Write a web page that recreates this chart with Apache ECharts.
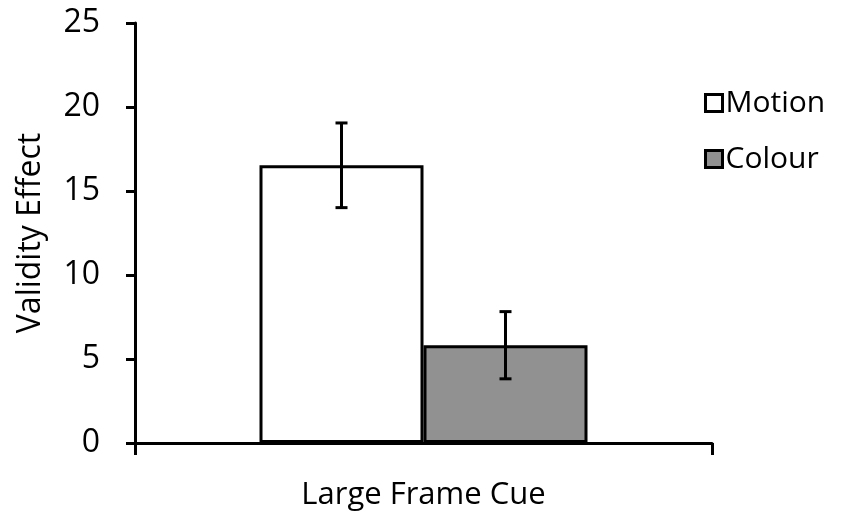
<!DOCTYPE html>
<html><head><meta charset="utf-8">
<script src="https://cdn.jsdelivr.net/npm/echarts@6/dist/echarts.min.js"></script>
<style>html,body{margin:0;padding:0;background:#fff}#c{width:843px;height:522px}</style>
</head><body><div id="c"></div>
<script>
var categories = ['Large Frame Cue'];
var seriesNames = ['Motion', 'Colour'];
var motionValues = [16.53];
var colourValues = [5.82];
var motionErrors = [2.52];
var colourErrors = [2.0];
var yTicks = {min: 0, max: 25, interval: 5};

var FONT = '"Open Sans", Lato, sans-serif';
var BAR_W = 164;
var chart = echarts.init(document.getElementById('c'));

function errSeries(name, values, errors, offset) {
  var data = values.map(function (v, i) { return [i, v - errors[i], v + errors[i]]; });
  return {
    type: 'custom', name: name + ' err', silent: true, z: 10,
    data: data,
    encode: {x: 0, y: [1, 2]},
    renderItem: function (params, api) {
      var lo = api.coord([api.value(0), api.value(1)]);
      var hi = api.coord([api.value(0), api.value(2)]);
      var x = lo[0] + offset;
      var cap = 6;
      var st = {stroke: '#000', lineWidth: 3};
      return {type: 'group', children: [
        {type: 'line', shape: {x1: x, y1: hi[1], x2: x, y2: lo[1]}, style: st},
        {type: 'line', shape: {x1: x - cap, y1: hi[1], x2: x + cap, y2: hi[1]}, style: st},
        {type: 'line', shape: {x1: x - cap, y1: lo[1], x2: x + cap, y2: lo[1]}, style: st}
      ]};
    }
  };
}

chart.setOption({
  animation: false,
  textStyle: {fontFamily: FONT},
  grid: {left: 135, right: 131, top: 23, bottom: 79},
  legend: {
    orient: 'vertical', left: 699, top: 83, itemGap: 26,
    icon: 'rect', itemWidth: 17, itemHeight: 17, itemStyle: {borderWidth: 3, borderColor: '#000'},
    textStyle: {fontSize: 30, color: '#000', fontFamily: FONT, padding: [0, 0, 0, -2]},
    data: seriesNames
  },
  xAxis: {
    type: 'category', data: categories,
    axisLine: {show: true, lineStyle: {color: '#000', width: 3}},
    axisTick: {show: true, length: 12, lineStyle: {color: '#000', width: 3}},
    axisLabel: {show: true, margin: 37, fontSize: 31, color: '#000', fontFamily: FONT}
  },
  yAxis: {
    type: 'value', min: yTicks.min, max: yTicks.max, interval: yTicks.interval,
    name: 'Validity Effect', nameLocation: 'middle', nameGap: 88,
    nameTextStyle: {fontSize: 32, color: '#000', fontFamily: FONT},
    axisLine: {show: true, lineStyle: {color: '#000', width: 3}},
    axisTick: {show: true, length: 9, lineStyle: {color: '#000', width: 3}},
    axisLabel: {margin: 35, fontSize: 32, color: '#000', fontFamily: FONT},
    splitLine: {show: false}
  },
  series: [
    {type: 'bar', name: seriesNames[0], data: motionValues, barWidth: BAR_W, barGap: '0%',
     itemStyle: {color: '#ffffff', borderColor: '#000', borderWidth: 3}},
    {type: 'bar', name: seriesNames[1], data: colourValues, barWidth: BAR_W, barGap: '0%',
     itemStyle: {color: '#919191', borderColor: '#000', borderWidth: 3}},
    errSeries('Motion', motionValues, motionErrors, -BAR_W / 2),
    errSeries('Colour', colourValues, colourErrors, BAR_W / 2)
  ]
});
</script></body></html>
